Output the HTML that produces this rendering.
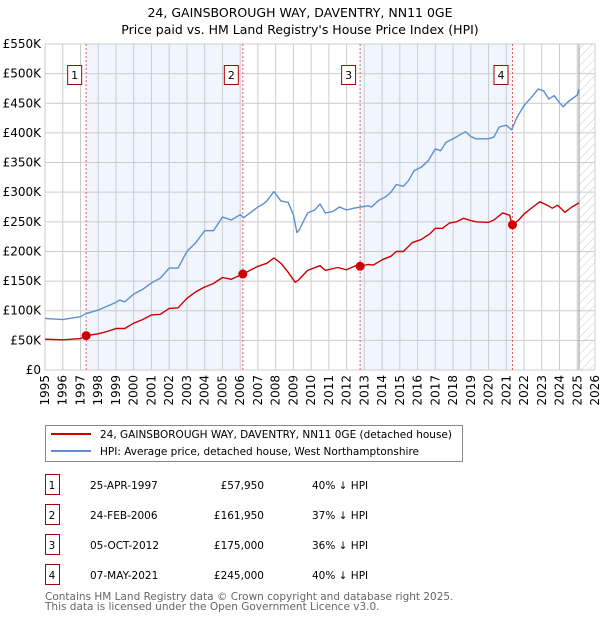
<!DOCTYPE html>
<html><head><meta charset="utf-8">
<style>
body{margin:0;background:#fff;font-family:"DejaVu Sans","Liberation Sans",sans-serif;}
#wrap{position:relative;width:600px;height:620px;overflow:hidden;}
svg text{font-family:"DejaVu Sans","Liberation Sans",sans-serif;}
</style></head>
<body>
<div id="wrap">
<svg id="chart" width="600" height="620" xmlns="http://www.w3.org/2000/svg">
<text x="300" y="17" text-anchor="middle" font-size="12.5" fill="#000">24, GAINSBOROUGH WAY, DAVENTRY, NN11 0GE</text>
<text x="300" y="34" text-anchor="middle" font-size="12.5" fill="#000">Price paid vs. HM Land Registry's House Price Index (HPI)</text>
<defs><pattern id="hatch" width="6" height="6" patternUnits="userSpaceOnUse" patternTransform="rotate(45)"><line x1="0" y1="0" x2="0" y2="6" stroke="#ccc" stroke-width="1"/></pattern></defs>
<g id="plot"></g>
<g>
<rect x="45.5" y="425.5" width="417" height="36" fill="#fff" stroke="#888"/>
<line x1="51" y1="434" x2="91" y2="434" stroke="#cc0000" stroke-width="2"/>
<text x="100" y="438" font-size="10.5">24, GAINSBOROUGH WAY, DAVENTRY, NN11 0GE (detached house)</text>
<line x1="51" y1="451" x2="91" y2="451" stroke="#5b8fd4" stroke-width="2"/>
<text x="100" y="455" font-size="10.5">HPI: Average price, detached house, West Northamptonshire</text>
</g>
<g id="table"></g>
<text x="45" y="600" font-size="10.5" fill="#666">Contains HM Land Registry data © Crown copyright and database right 2025.</text>
<text x="45" y="610" font-size="10.5" fill="#666">This data is licensed under the Open Government Licence v3.0.</text>
</svg>
</div>
<script>
const hpiYears=[1995,1996,1997,1997.3,1998,1999,1999.2,1999.5,2000,2000.5,2001,2001.5,2002,2002.5,2003,2003.5,2003.8,2004,2004.5,2005,2005.5,2006,2006.2,2007,2007.3,2007.5,2007.9,2008.3,2008.7,2009,2009.2,2009.34,2009.8,2010.2,2010.5,2010.8,2011.2,2011.6,2012,2012.4,2012.8,2013.2,2013.4,2013.8,2014.2,2014.5,2014.8,2015.2,2015.5,2015.8,2016.2,2016.6,2017,2017.3,2017.6,2018,2018.4,2018.7,2019,2019.3,2020,2020.3,2020.6,2021,2021.3,2021.6,2022,2022.5,2022.8,2023.1,2023.4,2023.7,2024,2024.2,2024.5,2025,2025.1];
const hpiValues=[87,85,90,95,101,114,118,115,128,136,147,155,172,172,200,215,227,235,235,258,253,262,257,275,280,285,301,285,283,262,232,237,265,270,280,265,267,275,270,273,275,277,275,286,292,300,313,310,320,336,342,353,373,370,384,390,397,402,394,390,390,393,410,413,405,426,446,463,474,471,457,463,451,444,453,464,474];
const redYears=[1995,1996,1997,1997.3,1998,1998.5,1999,1999.5,2000,2000.5,2001,2001.5,2002,2002.5,2003,2003.5,2004,2004.5,2005,2005.5,2006,2006.15,2007,2007.5,2007.9,2008.3,2008.7,2009.1,2009.3,2009.8,2010.5,2010.8,2011.5,2012,2012.5,2012.76,2013.2,2013.5,2014,2014.5,2014.8,2015.2,2015.7,2016.2,2016.7,2017,2017.4,2017.8,2018.2,2018.6,2019,2019.3,2020,2020.3,2020.8,2021.2,2021.3,2021.35,2021.7,2022,2022.5,2022.9,2023.3,2023.6,2023.9,2024.3,2024.7,2025.1];
const redValues=[52,51,53,57.95,61,65,70,70,79,85,93,94,104,105,121,132,140,146,156,153,160,161.95,175,180,189,180,165,148,152,168,176,168,173,169,176,175,178,177,186,192,200,200,215,220,230,239,239,248,250,256,252,250,249,253,265,261,247,245,253,263,275,284,278,273,278,266,275,282];
const saleYears=[1997.32,2006.15,2012.76,2021.35];
const saleValues=[57.95,161.95,175,245];
const saleLabels=["1","2","3","4"];
const saleDates=["25-APR-1997","24-FEB-2006","05-OCT-2012","07-MAY-2021"];
const salePrices=["£57,950","£161,950","£175,000","£245,000"];
const saleDiffs=["40% ↓ HPI","37% ↓ HPI","36% ↓ HPI","40% ↓ HPI"];
const yTicks=[0,50,100,150,200,250,300,350,400,450,500,550];
const yTickLabels=["£0","£50K","£100K","£150K","£200K","£250K","£300K","£350K","£400K","£450K","£500K","£550K"];
const xTicks=[1995,1996,1997,1998,1999,2000,2001,2002,2003,2004,2005,2006,2007,2008,2009,2010,2011,2012,2013,2014,2015,2016,2017,2018,2019,2020,2021,2022,2023,2024,2025,2026];
const dataEnd=2025.1;

const X0=45,X1=595,Y0=370,Y1=44;
const xs=y=>X0+(y-1995)/(2026-1995)*(X1-X0);
const ys=v=>Y0-v/550*(Y0-Y1);
const NS="http://www.w3.org/2000/svg";
const plot=document.getElementById('plot');
function mk(tag,attrs,parent){const e=document.createElementNS(NS,tag);for(const k in attrs)e.setAttribute(k,attrs[k]);(parent||plot).appendChild(e);return e;}

mk('rect',{x:X0,y:Y1,width:X1-X0,height:Y0-Y1,fill:'#fff'});
for(let i=0;i<saleYears.length;i+=2){
  const r=mk('rect',{x:xs(saleYears[i]),y:Y1,width:xs(saleYears[i+1])-xs(saleYears[i]),height:Y0-Y1,fill:'#f1f5fd'});
  
  
}
const h=mk('rect',{x:xs(dataEnd),y:Y1,width:X1-xs(dataEnd),height:Y0-Y1,fill:'url(#hatch)'});


yTicks.forEach((v,i)=>{
  const l=mk('line',{x1:X0,x2:X1,y1:ys(v),y2:ys(v),stroke:'#cccccc','stroke-width':1});
  
  
  const t=mk('text',{x:X0-4,y:ys(v)+4,'text-anchor':'end','font-size':12,fill:'#000'});
  t.textContent=yTickLabels[i];
  
  
});
xTicks.forEach(y=>{
  const l=mk('line',{x1:xs(y),x2:xs(y),y1:Y1,y2:Y0,stroke:'#cccccc','stroke-width':1});
  
  
  const t=mk('text',{x:0,y:0,'text-anchor':'end','font-size':12,fill:'#000',transform:`translate(${xs(y)+4},${Y0+5}) rotate(-90)`});
  t.textContent=y;
  
  
});
const el=mk('line',{x1:xs(dataEnd),x2:xs(dataEnd),y1:Y1,y2:Y0,stroke:'#999','stroke-width':1});


const bd=mk('rect',{x:X0,y:Y1,width:X1-X0,height:Y0-Y1,fill:'none',stroke:'#cccccc'});


saleYears.forEach((y,i)=>{
  const l=mk('line',{x1:xs(y),x2:xs(y),y1:Y1,y2:Y0,stroke:'#e06060','stroke-width':1,'stroke-dasharray':'2,2'});
  
  
  const b=mk('rect',{x:xs(y)-18.5,y:65.5,width:14,height:19,fill:'#fff',stroke:'#aa0000'});
  
  
  const t=mk('text',{x:xs(y)-11.5,y:79,'text-anchor':'middle','font-size':11});
  t.textContent=saleLabels[i];
  
  
});
function line(xa,va,color,name){
  const d=xa.map((y,i)=>(i?'L':'M')+xs(y).toFixed(1)+','+ys(va[i]).toFixed(1)).join('');
  const p=mk('path',{d:d,fill:'none',stroke:color,'stroke-width':1.4,'stroke-linejoin':'round'});
  
  
}
line(hpiYears,hpiValues,'#5b8fd4','hpi-line');
line(redYears,redValues,'#cc0000','property-line');
saleYears.forEach((y,i)=>{
  const c=mk('circle',{cx:xs(y),cy:ys(saleValues[i]),r:4.5,fill:'#cc0000'});
  
  
});
const tb=document.getElementById('table');
saleLabels.forEach((s,i)=>{
  const cy=485+i*30;
  const b=mk('rect',{x:45.5,y:cy-10.5,width:14,height:20,fill:'#fff',stroke:'#aa0000'},tb);
  
  
  const cells=[[52,s,'middle'],[90,saleDates[i],'start'],[264,salePrices[i],'end'],[312,saleDiffs[i],'start']];
  cells.forEach(c=>{
    const t=mk('text',{x:c[0],y:cy+4,'text-anchor':c[2],'font-size':10.5},tb);
    t.textContent=c[1];
    
    
  });
});
</script>
</body></html>
